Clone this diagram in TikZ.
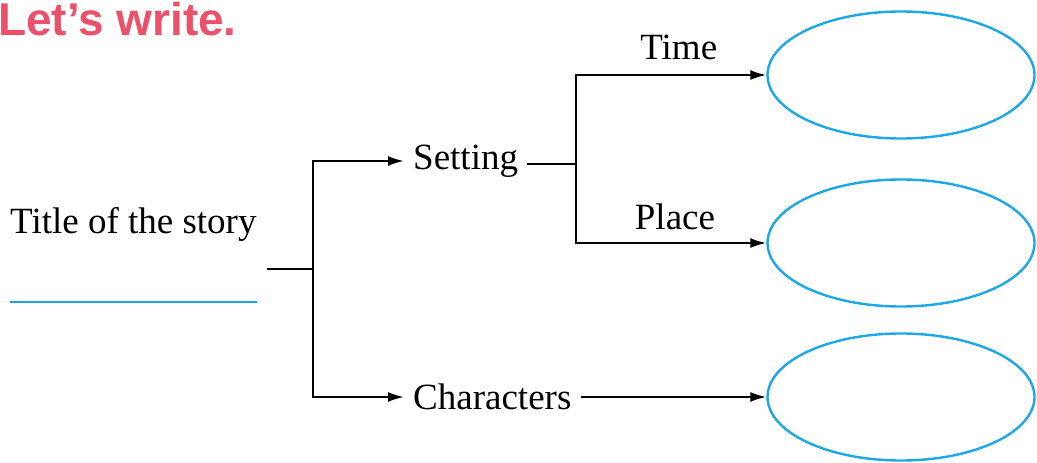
\documentclass[tikz,border=0pt]{standalone}
\usepackage{fontspec}
\setmainfont{Liberation Serif}
\newfontfamily\headfont{Liberation Sans}
\usepackage{xcolor}
\usetikzlibrary{calc,arrows.meta,shapes.geometric}
\definecolor{headred}{RGB}{233,82,106}
\definecolor{blankblue}{RGB}{28,168,232}

\begin{document}
\begin{tikzpicture}[x=1pt,y=-1pt]
% Sizes here are taken from the page, one unit per pixel.

% These set how the words, the blanks and the arrows look.
\tikzstyle{word}=[font=\fontsize{37}{44}\selectfont,inner xsep=9pt,inner ysep=0pt]
\tikzstyle{blank}=[draw=blankblue,ellipse,line width=2.4pt,minimum width=267pt,minimum height=127pt,inner sep=0pt]
\tikzstyle{link}=[line width=2pt,-{Latex[length=16pt,width=10pt]}]

\useasboundingbox (0,0) rectangle (1037,463);

% This draws the heading.
\node[anchor=north west,inner sep=0pt,text=headred,font=\headfont\bfseries\fontsize{46}{52}\selectfont] (heading) at (-2,2) {Let’s write.};

% This draws the title and the line to write it on.
\node[word,anchor=west,inner xsep=0pt] (title) at (10,224) {Title of the story};
\draw[blankblue,line width=2pt] ($(title.west)+(0,78)$) -- ($(title.west)+(247,78)$);

% These are the three blanks.
\node[blank] (time) at (901,75) {};
\node[blank] (place) at (901,243) {};
\node[blank] (chars) at (901,397) {};

% These are the two branches.
\node[word,anchor=west] (setting) at (404,161) {Setting};
\node[word,anchor=west] (characters) at (404,397) {Characters};

\coordinate (stem) at (267,269);
\coordinate (root) at (313,269);
\coordinate (fork) at (576,164);

% This draws the main tree.
\draw[line width=2pt] (stem) -- (root);
\draw[link] (root) |- (setting.west);
\draw[link] (root) |- (characters.west);

% This splits the setting into time and place.
\draw[line width=2pt] (setting.east |- fork) -- (fork);
\draw[link] (fork) |- (time.west) node [word,pos=0.77,above=14pt] {Time};
\draw[link] (fork) |- (place.west) node [word,pos=0.76,above=12pt] {Place};

% This leads the characters to their blank.
\draw[link] (characters.east) -- (chars.west);

\end{tikzpicture}
\end{document}
